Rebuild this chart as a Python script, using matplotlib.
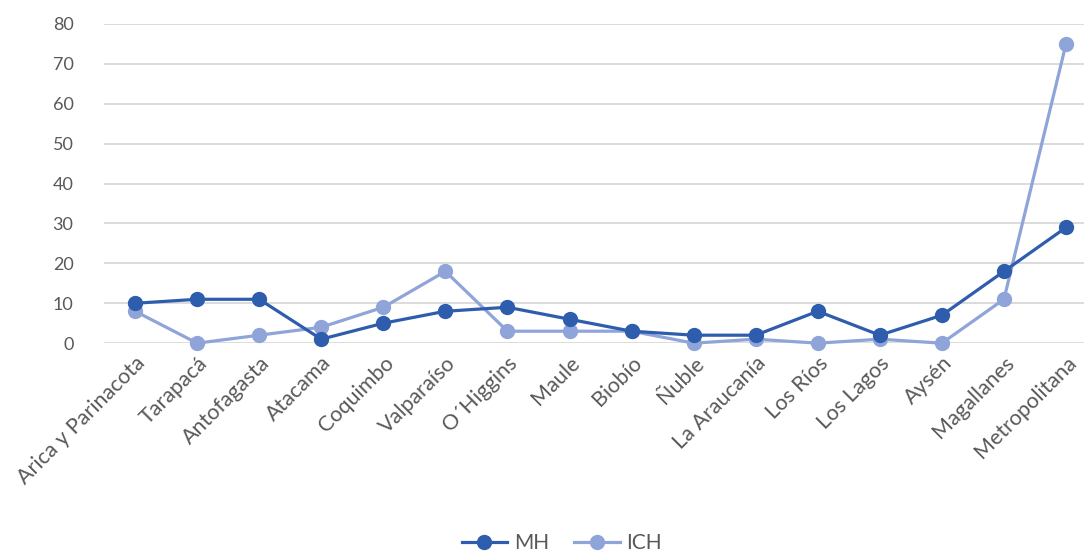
import matplotlib
matplotlib.use('Agg')
import matplotlib.pyplot as plt

regions = ['Arica y Parinacota', 'Tarapacá', 'Antofagasta', 'Atacama', 'Coquimbo',
           'Valparaíso', 'O´Higgins', 'Maule', 'Biobío', 'Ñuble', 'La Araucanía',
           'Los Ríos', 'Los Lagos', 'Aysén', 'Magallanes', 'Metropolitana']
mh = [10, 11, 11, 1, 5, 8, 9, 6, 3, 2, 2, 8, 2, 7, 18, 29]
ich = [8, 0, 2, 4, 9, 18, 3, 3, 3, 0, 1, 0, 1, 0, 11, 75]
y_ticks = [0, 10, 20, 30, 40, 50, 60, 70, 80]

plt.rcParams['font.family'] = ['Lato', 'DejaVu Sans']
text_color = '#595959'

fig = plt.figure(figsize=(10.84, 5.58), dpi=100)
ax = fig.add_axes([0.096, 0.385, 0.904, 0.572])

x = list(range(len(regions)))
ax.plot(x, mh, color='#2F5DAE', linewidth=2.3, marker='o', markersize=10,
        label='MH', clip_on=False, zorder=4)
ax.plot(x, ich, color='#8FA4D8', linewidth=2.3, marker='o', markersize=10,
        label='ICH', clip_on=False, zorder=3)

ax.set_xlim(-0.5, 15.29)
ax.set_ylim(0, 80)
ax.set_yticks(y_ticks)
ax.set_xticks(x)
ax.set_xticklabels(regions, rotation=45, ha='right', rotation_mode='anchor')
ax.tick_params(axis='y', length=0, labelsize=13, colors=text_color, pad=22)
ax.tick_params(axis='x', length=0, labelsize=15.5, colors=text_color, pad=7)
ax.grid(axis='y', color='#d9d9d9', linewidth=1.3)
ax.set_axisbelow(True)
for s in ax.spines.values():
    s.set_visible(False)

fig.legend(loc='lower center', bbox_to_anchor=(0.518, -0.025), ncol=2, frameon=False,
           fontsize=15, labelcolor=text_color, handlelength=2.2, columnspacing=1.2,
           handletextpad=0.3)

fig.savefig('out.png', dpi=100)
